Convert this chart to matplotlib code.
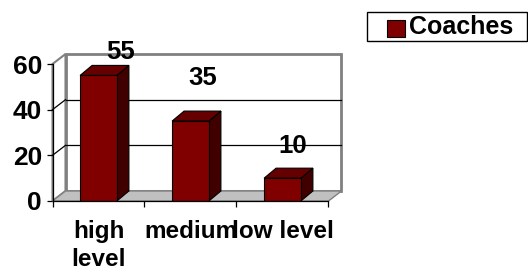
import matplotlib
matplotlib.use("Agg")
import matplotlib.pyplot as plt
import matplotlib.transforms as mtransforms
from matplotlib.patches import Polygon, Rectangle

# ---- data ----
categories = ["high\nlevel", "medium", "low level"]
values = [55, 35, 10]
series_name = "Coaches"
yticks = [0, 20, 40, 60]

# ---- layout / style ----
label_offsets_px = [(22.5, 23.5), (12.5, 43), (10, 32)]   # value-label placement (pixels)
front_col, top_col, side_col = "#800000", "#660000", "#400000"
wall_dx, wall_dy = 13, 10
bar_dx, bar_dy = 12, 10
bar_w = 0.40
W, H, DPI = 528, 273, 100

plt.rcParams["font.family"] = ["Liberation Sans", "DejaVu Sans"]
plt.rcParams["font.weight"] = "bold"

fig = plt.figure(figsize=(W / DPI, H / DPI), dpi=DPI)
fig.patch.set_facecolor("white")
ax = fig.add_axes([52.5 / W, (H - 201) / H, 276 / W, 137 / H])
ax.set_xlim(-0.5, len(categories) - 0.5)
ax.set_ylim(0, 60)
ax.patch.set_visible(False)
for s in ["top", "right"]:
    ax.spines[s].set_visible(False)
for s in ["left", "bottom"]:
    ax.spines[s].set_color("black")
    ax.spines[s].set_linewidth(0.9)
    ax.spines[s].set_zorder(6)

ident = mtransforms.IdentityTransform()
x0, x1 = ax.get_xlim()
ymax = ax.get_ylim()[1]


def D(x, y, dx=0, dy=0):
    px, py = ax.transData.transform((x, y))
    return (px + dx, py + dy)


def poly(pts, **kw):
    p = Polygon(pts, closed=True, transform=ident, clip_on=False, **kw)
    ax.add_patch(p)
    return p


# back wall
poly([D(x0, 0, wall_dx, wall_dy), D(x1, 0, wall_dx, wall_dy),
      D(x1, ymax, wall_dx, wall_dy), D(x0, ymax, wall_dx, wall_dy)],
     facecolor="white", edgecolor="#808080", lw=2, zorder=1)
# left wall
poly([D(x0, 0), D(x0, 0, wall_dx, wall_dy), D(x0, ymax, wall_dx, wall_dy), D(x0, ymax)],
     facecolor="white", edgecolor="#808080", lw=1.5, zorder=1)
# gridlines
for t in yticks[1:-1]:
    a, b = D(x0, t, wall_dx, wall_dy), D(x1, t, wall_dx, wall_dy)
    ax.plot([a[0], b[0]], [a[1], b[1]], color="black", lw=0.9, transform=ident,
            clip_on=False, zorder=2)
    c = D(x0, t)
    ax.plot([c[0], a[0]], [c[1], a[1]], color="black", lw=0.9, transform=ident,
            clip_on=False, zorder=2)
# floor
poly([D(x0, 0), D(x1, 0), D(x1, 0, wall_dx, wall_dy), D(x0, 0, wall_dx, wall_dy)],
     facecolor="#c0c0c0", edgecolor="#808080", lw=1, zorder=3)

# bars
xs = list(range(len(categories)))
for x, v in zip(xs, values):
    l, r = x - bar_w / 2, x + bar_w / 2
    poly([D(r, 0), D(r, 0, bar_dx, bar_dy), D(r, v, bar_dx, bar_dy), D(r, v)],
         facecolor=side_col, edgecolor="black", lw=0.8, zorder=4)
    poly([D(l, v), D(r, v), D(r, v, bar_dx, bar_dy), D(l, v, bar_dx, bar_dy)],
         facecolor=top_col, edgecolor="black", lw=0.8, zorder=4)
ax.bar(xs, values, width=bar_w, color=front_col, edgecolor="black", lw=0.8, zorder=5)

# value labels
for x, v, (ox, oy) in zip(xs, values, label_offsets_px):
    ax.annotate(str(v), xy=(x, v), xytext=(ox, oy), textcoords="offset pixels",
                ha="center", va="center", fontsize=18.5, fontweight="bold",
                annotation_clip=False, zorder=7)

# axes ticks
ax.set_yticks(yticks)
ax.set_yticklabels([str(t) for t in yticks], fontsize=19, fontweight="bold")
ax.tick_params(axis="y", length=4.5, width=0.9, color="black", pad=3)
ax.set_xticks(xs)
ax.set_xticklabels(categories, fontsize=17.5, fontweight="bold", linespacing=1.25)
ax.tick_params(axis="x", which="major", length=0, pad=14)
ax.set_xticks([x0 + i for i in range(len(categories) + 1)], minor=True)
ax.tick_params(axis="x", which="minor", length=4, width=0.9, color="black")

# legend
fig.patches.append(Rectangle((367 / W, 1 - 41 / H), 160 / W, 29 / H, transform=fig.transFigure,
                             facecolor="white", edgecolor="black", lw=1))
fig.patches.append(Rectangle((387 / W, 1 - 36.5 / H), 18 / W, 17 / H, transform=fig.transFigure,
                             facecolor=front_col, edgecolor="black", lw=0.8))
fig.text(409 / W, 1 - 27.5 / H, series_name, fontsize=18, fontweight="bold",
         ha="left", va="center")

fig.savefig("out.png", dpi=DPI, facecolor="white")
